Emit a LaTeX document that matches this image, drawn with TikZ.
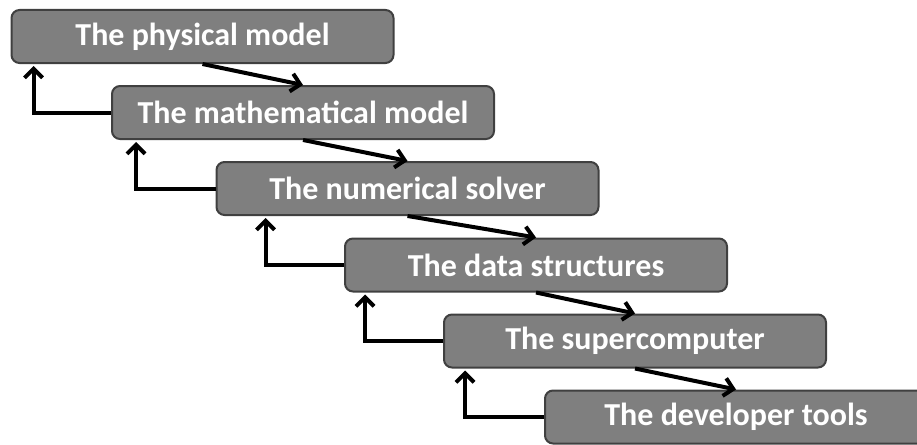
\documentclass[tikz,border=0pt]{standalone}
\usepackage{fontspec}
\setmainfont{Carlito}
\usetikzlibrary{arrows.meta,calc}
\definecolor{boxfill}{HTML}{7F7F7F}
\definecolor{boxline}{HTML}{404040}
\tikzset{
  box/.style={draw=boxline, line width=2pt, fill=boxfill, rounded corners=8pt,
    minimum height=53pt, minimum width=382pt, text=white, font=\bfseries\fontsize{32}{36}\selectfont, inner sep=0pt},
  arr/.style={draw=black, line width=4pt, -{Straight Barb[length=9pt,width=18pt,line width=4pt]}}
}
\begin{document}
\begin{tikzpicture}[x=1pt,y=-1pt]
\useasboundingbox (0,0) rectangle (917,444);
\node[box] (b1) at (202.5,36.5) {The physical model};
\node[box] (b2) at (303,112.5) {The mathematical model};
\node[box] (b3) at (407.5,188.5) {The numerical solver};
\node[box] (b4) at (536,265) {The data structures};
\node[box] (b5) at (635,341) {The supercomputer};
\node[box] (b6) at (736,417) {The developer tools};
\foreach \a/\b/\d in {b1/b2/23,b2/b3/25,b3/b4/50,b4/b5/21,b5/b6/22}{
  \draw[arr] (\a.south) -- (\b.north);
  \draw[arr] (\b.west) -| ($(\a.south west)+(\d,2)$);
}
\end{tikzpicture}
\end{document}
